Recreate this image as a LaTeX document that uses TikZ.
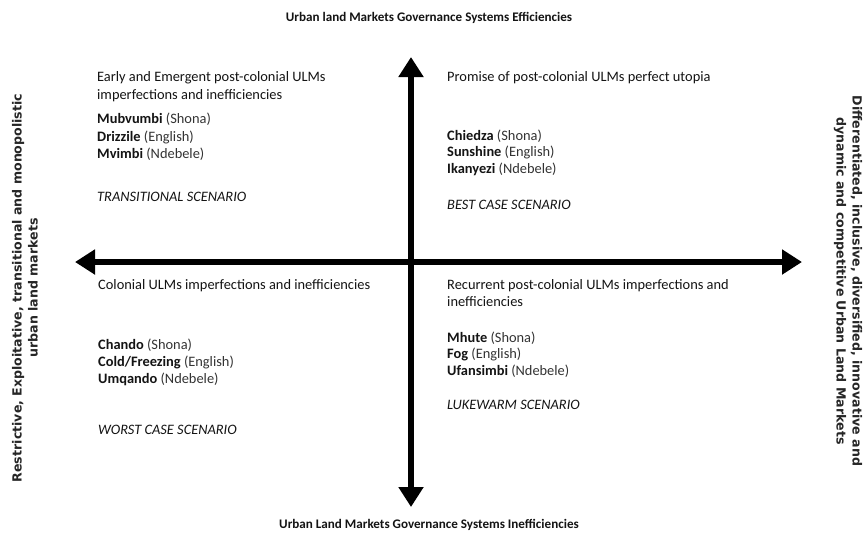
\documentclass[tikz,border=0pt]{standalone}
\usepackage{fontspec}
\setmainfont{Carlito}
\newfontfamily\sidefont{DejaVu Sans}
\usetikzlibrary{arrows.meta}
\definecolor{ink}{HTML}{141414}
\definecolor{soft}{HTML}{333333}
\definecolor{sideink}{HTML}{262626}
\begin{document}
\begin{tikzpicture}[x=1pt,y=-1pt,
  txt/.style={anchor=base west,inner sep=0pt,text=ink,font=\fontsize{14.4}{16}\selectfont},
  ttl/.style={anchor=base,inner sep=0pt,text=ink,font=\bfseries\fontsize{13.1}{15}\selectfont},
  side/.style={inner sep=0pt,text=sideink,align=center,font=\sidefont\bfseries\fontsize{12.6}{16}\selectfont},
  axis/.style={line width=6pt,-{Triangle[length=20pt,width=24pt]},draw=black}]
\useasboundingbox (0,0) rectangle (865,539);
\fill[white] (0,0) rectangle (865,539);
% axes
\coordinate (W) at (75,262);
\coordinate (E) at (802,262);
\coordinate (N) at (411,57);
\coordinate (S) at (411,507);
\coordinate (O) at (411,262);
\draw[axis] (O) -- (W);
\draw[axis] (O) -- (E);
\draw[axis] (O) -- (N);
\draw[axis] (O) -- (S);
% titles
\node[ttl] (top) at (429,21) {Urban land Markets Governance Systems Efficiencies};
\node[ttl] (bot) at (429,528) {Urban Land Markets Governance Systems Inefficiencies};
\node[side,rotate=90] (left) at (25,288) {Restrictive, Exploitative, transitional and monopolistic\\urban land markets};
\node[side,rotate=-90] (right) at (848,281) {Differentiated, inclusive, diversified, innovative and\\dynamic and competitive Urban Land Markets};
% top left
\node[txt] (tl1) at (97,81) {Early and Emergent post-colonial ULMs};
\node[txt] (tl2) at (97,99) {imperfections and inefficiencies};
\node[txt] (tl3) at (97,123) {\textbf{Mubvumbi} \textcolor{soft}{(Shona)}};
\node[txt] (tl4) at (97,141) {\textbf{Drizzile} \textcolor{soft}{(English)}};
\node[txt] (tl5) at (97,158) {\textbf{Mvimbi} \textcolor{soft}{(Ndebele)}};
\node[txt] (tl6) at (97,201) {\itshape TRANSITIONAL SCENARIO};
% top right
\node[txt] (tr1) at (447,81) {Promise of post-colonial ULMs perfect utopia};
\node[txt] (tr2) at (447,140) {\textbf{Chiedza} \textcolor{soft}{(Shona)}};
\node[txt] (tr3) at (447,156) {\textbf{Sunshine} \textcolor{soft}{(English)}};
\node[txt] (tr4) at (447,173) {\textbf{Ikanyezi} \textcolor{soft}{(Ndebele)}};
\node[txt] (tr5) at (447,209) {\itshape BEST CASE SCENARIO};
% bottom left
\node[txt] (bl1) at (98,289) {Colonial ULMs imperfections and inefficiencies};
\node[txt] (bl2) at (98,349) {\textbf{Chando} \textcolor{soft}{(Shona)}};
\node[txt] (bl3) at (98,366) {\textbf{Cold/Freezing} \textcolor{soft}{(English)}};
\node[txt] (bl4) at (98,383) {\textbf{Umqando} \textcolor{soft}{(Ndebele)}};
\node[txt] (bl5) at (98,434) {\itshape WORST CASE SCENARIO};
% bottom right
\node[txt] (br1) at (447,289) {Recurrent post-colonial ULMs imperfections and};
\node[txt] (br2) at (447,306) {inefficiencies};
\node[txt] (br3) at (447,342) {\textbf{Mhute} \textcolor{soft}{(Shona)}};
\node[txt] (br4) at (447,358) {\textbf{Fog} \textcolor{soft}{(English)}};
\node[txt] (br5) at (447,375) {\textbf{Ufansimbi} \textcolor{soft}{(Ndebele)}};
\node[txt] (br6) at (447,409) {\itshape LUKEWARM SCENARIO};
\end{tikzpicture}
\end{document}
